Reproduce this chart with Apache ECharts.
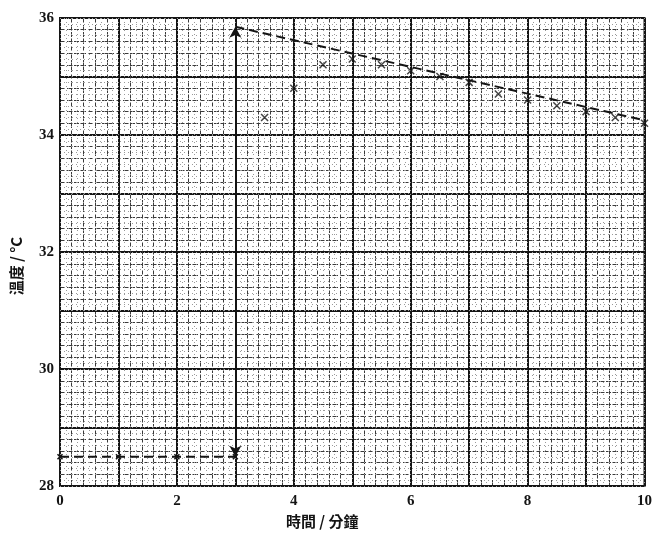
<!DOCTYPE html>
<html>
<head>
<meta charset="utf-8">
<script src="https://cdn.jsdelivr.net/npm/echarts@6/dist/echarts.min.js"></script>
<style>html,body{margin:0;padding:0;background:#fff;}#c{width:655px;height:534px;}</style>
</head>
<body>
<div id="c"></div>
<script>
// ---- data ----
const xTickLabels = ['0', '2', '4', '6', '8', '10'];
const yTickLabels = ['28', '30', '32', '34', '36'];
const preTimes = [0, 1, 2, 3];
const preTemps = [28.5, 28.5, 28.5, 28.5];
const postTimes = [3.5, 4, 4.5, 5, 5.5, 6, 6.5, 7, 7.5, 8, 8.5, 9, 9.5, 10];
const postTemps = [34.3, 34.8, 35.2, 35.3, 35.2, 35.1, 35.0, 34.9, 34.7, 34.6, 34.5, 34.4, 34.3, 34.2];
const fitTimes = [3, 10];
const fitTemps = [35.85, 34.25];
const arrowTime = 3;
const arrowFrom = 28.5;
const arrowTo = 35.85;

const pair = (xs, ys) => xs.map((x, i) => [x, ys[i]]);
const crossPath = 'path://M0,0L10,10M10,0L0,10';
const ink = '#141414';
const labelFont = {fontFamily: 'Liberation Serif', fontWeight: 'bold', fontSize: 15, color: ink};

const chart = echarts.init(document.getElementById('c'));
chart.setOption({
  animation: false,
  backgroundColor: '#fff',
  grid: {left: 60, right: 10, top: 18, bottom: 46, show: true, borderColor: ink, borderWidth: 2},
  xAxis: [{
    type: 'value', min: 0, max: 10, interval: 1,
    name: '時間 / 分鐘', nameLocation: 'middle', nameGap: 26,
    nameTextStyle: {fontFamily: 'Noto Sans CJK TC', fontWeight: 'bold', fontSize: 15, color: ink, padding: [0, 60, 0, 0]},
    axisLine: {show: false}, axisTick: {show: false},
    axisLabel: Object.assign({margin: 8, formatter: v => (xTickLabels.indexOf(String(v)) >= 0 ? String(v) : '')}, labelFont),
    splitLine: {show: true, lineStyle: {color: ink, width: 2}},
    minorTick: {show: false, splitNumber: 5},
    minorSplitLine: {show: true, lineStyle: {color: '#3a3a3a', width: 1, type: [5, 2]}}
  }, {
    type: 'value', min: 0, max: 10, interval: 0.1, position: 'top',
    axisLine: {show: false}, axisTick: {show: false}, axisLabel: {show: false},
    splitLine: {show: true, lineStyle: {color: '#9a9a9a', width: 1, type: [1, 3]}}
  }],
  yAxis: [{
    type: 'value', min: 28, max: 36, interval: 1,
    name: '溫度 / °C', nameLocation: 'middle', nameGap: 36, nameRotate: 90,
    nameTextStyle: {fontFamily: 'Noto Sans CJK TC', fontWeight: 'bold', fontSize: 15, color: ink, padding: [0, 28, 0, 0]},
    axisLine: {show: false}, axisTick: {show: false},
    axisLabel: Object.assign({margin: 6, formatter: v => (yTickLabels.indexOf(String(v)) >= 0 ? String(v) : '')}, labelFont),
    splitLine: {show: true, lineStyle: {color: ink, width: 2}},
    minorTick: {show: false, splitNumber: 5},
    minorSplitLine: {show: true, lineStyle: {color: '#3a3a3a', width: 1, type: [5, 2]}}
  }, {
    type: 'value', min: 28, max: 36, interval: 0.1, position: 'right',
    axisLine: {show: false}, axisTick: {show: false}, axisLabel: {show: false},
    splitLine: {show: true, lineStyle: {color: '#9a9a9a', width: 1, type: [1, 3]}}
  }],
  series: [
    {
      type: 'line', data: pair(preTimes, preTemps), showSymbol: true,
      symbol: crossPath, symbolSize: 5,
      itemStyle: {color: 'transparent', borderColor: ink, borderWidth: 1.5},
      lineStyle: {color: ink, width: 2, type: [9, 5]}, z: 5
    },
    {
      type: 'line', data: pair(fitTimes, fitTemps), showSymbol: false,
      lineStyle: {color: ink, width: 2, type: [9, 5]}, z: 5,
      markLine: {
        silent: true, symbol: ['arrow', 'arrow'], symbolSize: [9, 11],
        label: {show: false},
        lineStyle: {color: ink, width: 2, type: 'solid'},
        data: [[{coord: [arrowTime, arrowFrom]}, {coord: [arrowTime, arrowTo]}]]
      }
    },
    {
      type: 'scatter', data: pair(postTimes, postTemps),
      symbol: crossPath, symbolSize: 7,
      itemStyle: {color: 'transparent', borderColor: ink, borderWidth: 1.5}, z: 6
    }
  ]
});
</script>
</body>
</html>
